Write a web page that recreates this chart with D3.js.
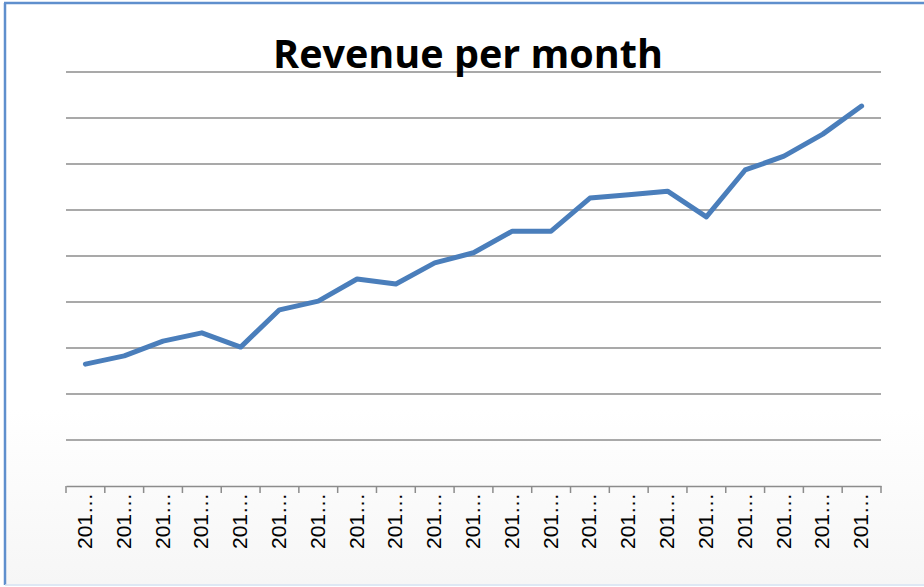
<!DOCTYPE html>
<html>
<head>
<meta charset="utf-8">
<script src="https://cdn.jsdelivr.net/npm/d3@7"></script>
<style>
html,body{margin:0;padding:0;background:#fff;}
svg{display:block;}
</style>
</head>
<body>
<svg id="chart" width="924" height="587"></svg>
<script>
const title = "Revenue per month";
const months = ["2012-01","2012-02","2012-03","2012-04","2012-05","2012-06","2012-07",
  "2012-08","2012-09","2012-10","2012-11","2012-12","2013-01","2013-02","2013-03",
  "2013-04","2013-05","2013-06","2013-07","2013-08","2013-09"];
const revenue = [2.65,2.83,3.15,3.33,3.02,3.83,4.02,4.50,4.39,4.85,5.07,5.54,5.54,
  6.26,6.33,6.41,5.85,6.87,7.17,7.65,8.26];
const yTicks = [0,1,2,3,4,5,6,7,8,9];

const W = 924, H = 587;
const svg = d3.select("#chart");

const defs = svg.append("defs");
const grad = defs.append("linearGradient").attr("id","bg").attr("x1",0).attr("y1",0).attr("x2",0).attr("y2",1);
grad.append("stop").attr("offset","0%").attr("stop-color","#ffffff");
grad.append("stop").attr("offset","70%").attr("stop-color","#ffffff");
grad.append("stop").attr("offset","100%").attr("stop-color","#f6f6f6");

// chart area
svg.append("rect").attr("x",5).attr("y",3).attr("width",W).attr("height",581)
  .attr("fill","url(#bg)");
// border
svg.append("line").attr("x1",5).attr("x2",5).attr("y1",3).attr("y2",585)
  .attr("stroke","#5f8fcd").attr("stroke-width",2.5);
svg.append("line").attr("x1",4).attr("x2",W).attr("y1",3).attr("y2",3)
  .attr("stroke","#5f8fcd").attr("stroke-width",2.5);
svg.append("line").attr("x1",5).attr("x2",W).attr("y1",585).attr("y2",585)
  .attr("stroke","#d3e0f1").attr("stroke-width",1.5);

const plot = {left:66, right:881, top:72, bottom:486};

const x = d3.scaleBand().domain(months).range([plot.left, plot.right]).padding(0);
const y = d3.scaleLinear().domain([0, 9]).range([plot.bottom, plot.top]);

// gridlines
svg.append("g").selectAll("line").data(yTicks.filter(d => d > 0)).join("line")
  .attr("x1", plot.left).attr("x2", plot.right)
  .attr("y1", d => y(d)).attr("y2", d => y(d))
  .attr("stroke","#8c8c8c").attr("stroke-width",1.5);

// x axis
const xAxis = d3.axisBottom(x).tickSize(0).tickFormat(d => d.slice(0,3) + "\u2026");
const gx = svg.append("g").attr("transform",`translate(0,${plot.bottom})`).call(xAxis);
gx.attr("font-size", null).attr("font-family", null);
gx.select(".domain").attr("stroke","#8c8c8c").attr("stroke-width",1.5);
// ticks at band edges
const edges = months.map(m => x(m)).concat([x(months[months.length-1]) + x.bandwidth()]);
gx.append("g").selectAll("line").data(edges).join("line")
  .attr("x1", d => d).attr("x2", d => d).attr("y1", 0).attr("y2", 7)
  .attr("stroke","#8c8c8c").attr("stroke-width",1.5);
gx.selectAll(".tick text")
  .style("font-family","'Liberation Sans', Arial, sans-serif")
  .style("font-size","21px").attr("fill","#000")
  .attr("transform","rotate(-90)")
  .attr("text-anchor","end")
  .attr("x",-7).attr("y",-1).attr("dy","0.36em");

// line
const line = d3.line().x((d,i) => x(months[i]) + x.bandwidth()/2).y(d => y(d));
svg.append("path").datum(revenue)
  .attr("d", line)
  .attr("fill","none").attr("stroke","#4a7ebb").attr("stroke-width",5)
  .attr("stroke-linejoin","round").attr("stroke-linecap","round");

// title
const t = svg.append("text").text(title)
  .attr("x", 468).attr("y", 68)
  .attr("text-anchor","middle")
  .attr("font-family","'Open Sans', 'Liberation Sans', sans-serif")
  .attr("font-weight","bold").attr("font-size","36px").attr("fill","#000");
const len = t.node().getComputedTextLength();
t.attr("font-size", (36 * 390 / len).toFixed(2) + "px");
</script>
</body>
</html>
